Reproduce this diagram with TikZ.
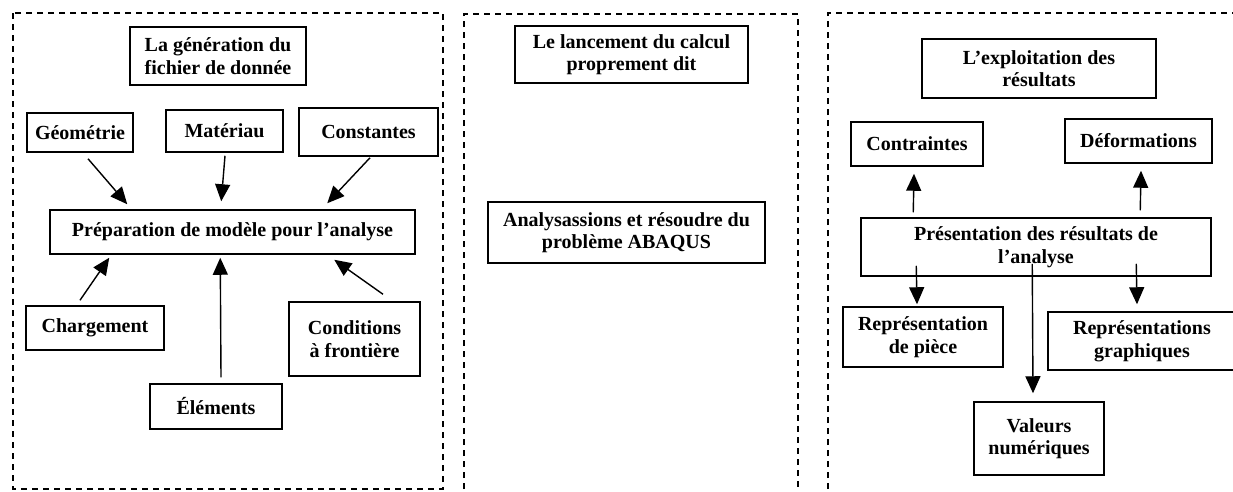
\documentclass[tikz,border=0pt]{standalone}
\usepackage{fontspec}
\setmainfont{Liberation Serif}
\usetikzlibrary{arrows.meta,calc}
\begin{document}
\begin{tikzpicture}[x=1pt,y=-1pt,
  box/.style={draw,line width=1.5pt,align=center,inner sep=0pt,
    font=\fontsize{20}{22.5}\selectfont\bfseries},
  arr/.style={line width=1.4pt,-{Triangle[length=17pt,width=15pt]}},
  panel/.style={line width=1.4pt,dash pattern=on 6pt off 5pt}]
\useasboundingbox (0,0) rectangle (1233,491);
\clip (0,0) rectangle (1233,491);

% panels
\draw[panel] (13,13) rectangle (443,489);
\draw[panel] (464,500) -- (464,14) -- (798,14) -- (798,500);
\draw[panel] (828,500) -- (828,13) -- (1240,13);

% left panel
\node[box,minimum width=176pt,minimum height=58pt] (gen) at (218,56) {La génération du\\fichier de donnée};
\node[box,minimum width=106pt,minimum height=39pt] (geo) at (80,132.5) {Géométrie};
\node[box,minimum width=117pt,minimum height=42pt] (mat) at (224.5,131) {Matériau};
\node[box,minimum width=139pt,minimum height=48pt] (cst) at (368.5,132) {Constantes};
\node[box,minimum width=365pt,minimum height=44pt] (prep) at (232.5,232) {Préparation de modèle pour l’analyse};
\node[box,minimum width=138pt,minimum height=44pt] (charg) at (95,328) {Chargement};
\node[box,minimum width=132pt,minimum height=45pt] (elem) at (216,406.5) {Éléments};
\node[box,minimum width=131pt,minimum height=74pt] (cond) at (354.5,339) {Conditions\\à frontière};

\draw[arr] ($(geo.south)+(8,6)$) -- ($(prep.north west)+(78,-5)$);
\draw[arr] ($(mat.south)+(0.5,3)$) -- ($(prep.north west)+(172,-8)$);
\draw[arr] ($(cst.south)+(1.5,1)$) -- ($(prep.north west)+(278,-6)$);
\draw[arr] ($(charg.north)+(-15,-5)$) -- ($(prep.south west)+(60,3)$);
\draw[arr] ($(elem.north)+(5,-6)$) -- ($(prep.south west)+(171,3)$);
\draw[arr] ($(cond.north)+(28.5,-7)$) -- ($(prep.south west)+(285,5)$);

% middle panel
\node[box,minimum width=233pt,minimum height=57pt] (lanc) at (631.5,54.5) {Le lancement du calcul\\proprement dit};
\node[box,minimum width=277pt,minimum height=61pt] (anal) at (626.5,232.5) {Analysassions et résoudre du\\problème ABAQUS};

% right panel
\node[box,minimum width=234pt,minimum height=59pt] (expl) at (1039,68.5) {L’exploitation des\\résultats};
\node[box,minimum width=132pt,minimum height=44pt] (contr) at (917,144) {Contraintes};
\node[box,minimum width=147pt,minimum height=44pt] (defo) at (1138.5,141) {Déformations};
\node[box,minimum width=350pt,minimum height=58pt] (pres) at (1036,247) {Présentation des résultats de\\l’analyse};
\node[box,minimum width=160pt,minimum height=60pt] (rpiece) at (923,337) {Représentation\\de pièce};
\node[box,minimum width=188pt,minimum height=58pt] (rgraph) at (1142,341) {Représentations\\graphiques};
\node[box,minimum width=130pt,minimum height=73pt] (val) at (1039,438.5) {Valeurs\\numériques};

\draw[arr] ($(pres.north west)+(53,-5)$) -- ($(contr.south)+(-3,7)$);
\draw[arr] ($(pres.north west)+(280,-7)$) -- ($(defo.south)+(2.5,7)$);
\draw[arr] ($(pres.south west)+(56,-11)$) -- ($(rpiece.north)+(-6,-2)$);
\draw[arr] ($(pres.south west)+(172,-13)$) -- ($(val.north)+(-6,-8)$);
\draw[arr] ($(pres.south west)+(276,-13)$) -- ($(rgraph.north)+(-5,-7)$);
\end{tikzpicture}
\end{document}
